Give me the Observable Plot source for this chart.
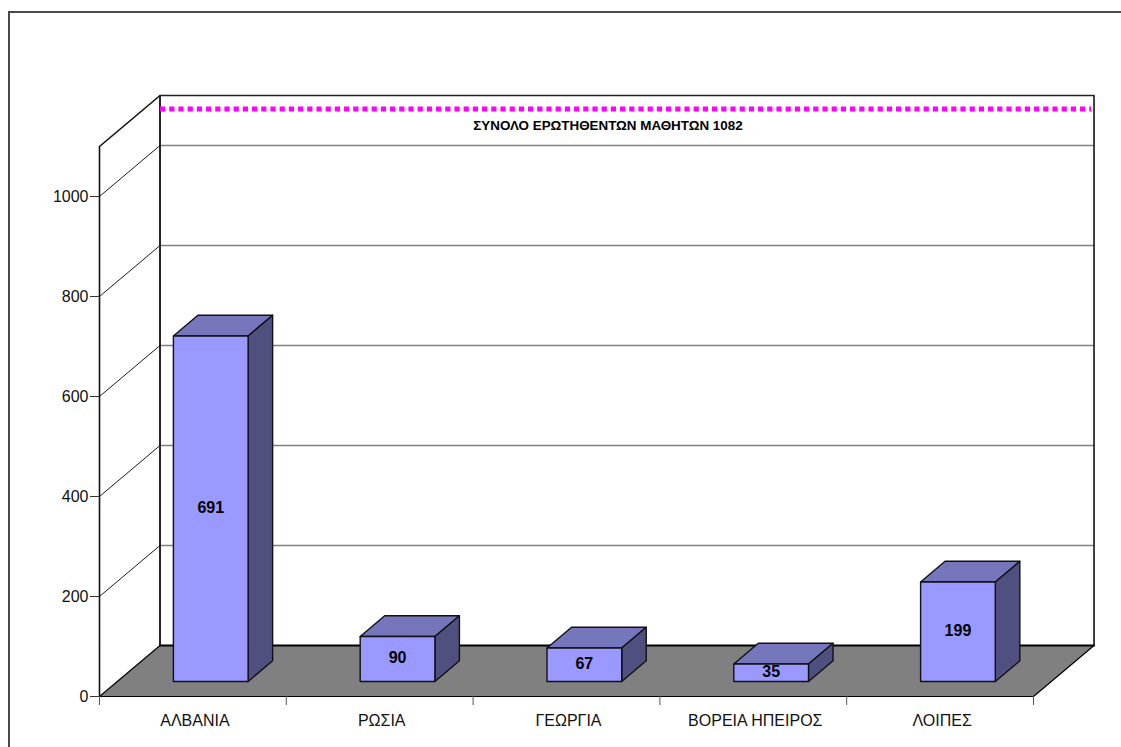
<!DOCTYPE html>
<html><head><meta charset="utf-8">
<script src="https://cdn.jsdelivr.net/npm/d3@7"></script>
<script src="https://cdn.jsdelivr.net/npm/@observablehq/plot@0.6"></script>
<style>
html,body{margin:0;padding:0;background:#fff;overflow:hidden;width:1121px;height:747px}
#page{position:relative;width:1121px;height:747px;overflow:hidden}
#page svg{position:absolute;left:0;top:0;background:transparent}
#border{position:absolute;left:8px;top:11px;width:2000px;height:2000px;border:2px solid #4a4a4a}
</style></head><body><div id="page"><div id="border"></div></div>
<script>
// Chart values
const categories = ["ΑΛΒΑΝΙΑ","ΡΩΣΙΑ","ΓΕΩΡΓΙΑ","ΒΟΡΕΙΑ ΗΠΕΙΡΟΣ","ΛΟΙΠΕΣ"];
const values = [691,90,67,35,199];
const yTicks = [0,200,400,600,800,1000];
const yMax = 1100;
const totalLine = 1073;            // dotted line as read on the back wall
const totalLabel = "ΣΥΝΟΛΟ ΕΡΩΤΗΘΕΝΤΩΝ ΜΑΘΗΤΩΝ 1082";
const colors = {front:"#9999ff", top:"#7676bd", side:"#4f4f80", floor:"#808080", pink:"#ff00ff"};

// Oblique projection: depth d in 0..1 moves along the floor in data units
const depthX = 0.324, depthY = 102;
const P = (c, v, d) => ({x: c + d*depthX, y: v + d*depthY});
const front = 0.295, back = 0.70, barL = 0.3, barW = 0.4;

const face = (id, pts) => pts.map(([c,v,d]) => ({id, ...P(c,v,d)}));
const fronts=[], tops=[], sides=[], labels=[];
values.forEach((v,i)=>{
  const l=i+barL, r=l+barW;
  fronts.push(...face("f"+i,[[l,0,front],[r,0,front],[r,v,front],[l,v,front],[l,0,front]]));
  tops.push(...face("t"+i,[[l,v,front],[r,v,front],[r,v,back],[l,v,back],[l,v,front]]));
  sides.push(...face("s"+i,[[r,0,front],[r,0,back],[r,v,back],[r,v,front],[r,0,front]]));
  labels.push({...P(i+barL+barW/2,v/2,front),t:String(v)});
});
const floor = face("floor",[[0,0,0],[5,0,0],[5,0,1],[0,0,1],[0,0,0]]);
const wall = face("wall",[[0,0,1],[0,yMax,1],[5,yMax,1],[5,0,1]]);
const sideWall = face("sw",[[0,0,0],[0,yMax,0],[0,yMax,1],[0,0,1]]);
const grid = yTicks.slice(1).flatMap(v=>face("g"+v,[[0,v,1],[5,v,1]]));
const diag = yTicks.slice(1).flatMap(v=>face("d"+v,[[0,v,0],[0,v,1]]));
const pinkLine = face("p",[[0,totalLine,1],[4.985,totalLine,1]]);
const boundary = face("b",[[0,0,1],[5,0,1]]);
const xy = {x:"x",y:"y",z:"id"};

const chart = Plot.plot({
  width:1121,height:747,marginLeft:99,marginRight:88,marginTop:146,marginBottom:51,
  style:{fontFamily:"'Liberation Sans',Arial,sans-serif",background:"transparent",color:"#000"},
  x:{domain:[0,5],axis:null},
  y:{domain:[0,yMax],axis:null},
  marks:[
    Plot.line(floor,{...xy,fill:colors.floor,stroke:"#000",strokeWidth:1.2}),
    Plot.line(grid,{...xy,stroke:"#808080",strokeWidth:1.6}),
    Plot.line(diag,{...xy,stroke:"#000",strokeWidth:0.9}),
    Plot.line(sideWall,{...xy,stroke:"#111",strokeWidth:1.6}),
    Plot.line(wall,{...xy,stroke:"#222",strokeWidth:1.7}),
    Plot.line(boundary,{...xy,stroke:"#000",strokeWidth:2}),
    Plot.line(pinkLine,{...xy,stroke:colors.pink,strokeWidth:5,strokeDasharray:"5.2 4",strokeLinecap:"butt"}),
    Plot.text([{...P(2.398,1040,1),t:totalLabel}],{x:"x",y:"y",text:"t",fontSize:13.4,fontWeight:"bold",fill:"#000"}),
    Plot.line(tops,{...xy,fill:colors.top,stroke:"#111",strokeWidth:1.4}),
    Plot.line(sides,{...xy,fill:colors.side,stroke:"#111",strokeWidth:1.4}),
    Plot.line(fronts,{...xy,fill:colors.front,stroke:"#111",strokeWidth:1.4}),
    Plot.text(labels,{x:"x",y:"y",text:"t",fontSize:16,fontWeight:"bold",fill:"#000",dy:-1}),
    Plot.axisY({ticks:yTicks,tickSize:9,tickPadding:2,fontSize:16,label:null,stroke:"#333",fill:"#111",tickFormat:d=>String(d)}),
    Plot.axisX({anchor:"bottom",ticks:d3.range(0,6),tickSize:9,tickFormat:()=>"",label:null,stroke:"#555"}),
    Plot.axisX({anchor:"bottom",ticks:categories.map((c,i)=>i+0.5),tickSize:0,tickPadding:18,fontSize:16,label:null,fill:"#111",dx:2,
      tickFormat:d=>categories[Math.floor(d)]})
  ]
});
document.getElementById("page").appendChild(chart);
</script></body></html>
